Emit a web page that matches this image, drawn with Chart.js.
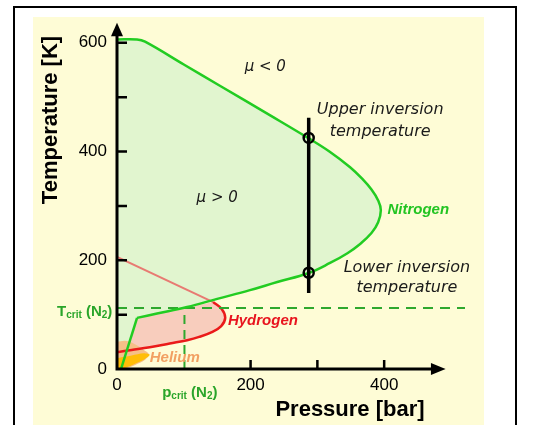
<!doctype html>
<html>
<head>
<title>Joule-Thomson inversion curves</title>
<script src="https://cdn.jsdelivr.net/npm/chart.js@4.4.1/dist/chart.umd.min.js"></script>
<style>
html, body { margin: 0; padding: 0; background: #fff; }
#wrap { width: 539px; height: 425px; }
</style>
</head>
<body>
<div id="wrap"><canvas id="chart" width="539" height="425"></canvas></div>
<script>
// values: pressure in bar, temperature in K
var n2Pressure = [0, 30, 42, 100, 154, 230, 286, 318, 349, 367, 381, 391, 395, 391, 381, 364, 345, 319, 286, 240, 199, 150, 105, 60, 30];
var n2Temp     = [606, 606, 602, 560, 521, 466, 425, 400, 371, 350, 330, 310, 292, 270, 250, 230, 213, 195, 176, 160, 145, 129, 114, 102, 94];
var n2TailPressure = [30, 6];
var n2TailTemp     = [94, 0];

var h2Pressure = [144, 157, 162, 156, 142, 123, 105, 79, 49, 22, 0];
var h2Temp     = [123, 110, 94, 79, 68, 59, 53, 47, 40, 35, 31];
var h2UpperPressure = [0, 144];
var h2UpperTemp     = [206, 123];

var heOuterPressure = [0, 12, 25, 38, 48, 42, 28, 10, 0];
var heOuterTemp     = [50, 52, 47, 37, 27, 17, 8, 0, 0];
var heInnerPressure = [0, 22, 40, 49, 40, 24, 7, 0];
var heInnerTemp     = [20, 25, 29, 26, 17, 8, 0, 0];

var tCritN2 = 112;
var pCritN2 = 101;
var inversionPressure = 287;
var inversionTemps = [425, 177];
var inversionBar = [462, 140];

var pressureTicks = [0, 200, 400];
var temperatureTicks = [0, 200, 400, 600];

function xy(xs, ys) {
	return xs.map(function(x, i) { return {x: x, y: ys[i]}; });
}

var SANS = "'Liberation Sans', Arial, sans-serif";
Chart.defaults.font.family = SANS;

// closed areas: path of the line itself, plus a few closing points
var areaFill = {
	id: 'areaFill',
	beforeDatasetsDraw: function(chart) {
		var ctx = chart.ctx, sx = chart.scales.x, sy = chart.scales.y;
		chart.data.datasets.forEach(function(ds, i) {
			if (!ds.areaFill) return;
			var meta = chart.getDatasetMeta(i);
			ctx.save();
			ctx.beginPath();
			meta.dataset.path(ctx);
			(ds.closeVia || []).forEach(function(p) {
				ctx.lineTo(sx.getPixelForValue(p[0]), sy.getPixelForValue(p[1]));
			});
			ctx.closePath();
			ctx.fillStyle = ds.areaFill;
			ctx.fill();
			ctx.restore();
		});
	}
};

var backdrop = {
	id: 'backdrop',
	beforeDraw: function(chart) {
		var ctx = chart.ctx;
		ctx.save();
		ctx.fillStyle = '#fff';
		ctx.fillRect(0, 0, chart.width, chart.height);
		ctx.fillStyle = '#fefcd6';
		ctx.fillRect(33, 17, 451, 420);
		ctx.strokeStyle = '#000';
		ctx.lineWidth = 2;
		ctx.strokeRect(14, 7, 502, 430);
		ctx.restore();
	}
};

function richText(ctx, parts, x, y, align) {
	var w = 0;
	parts.forEach(function(p) { ctx.font = p.font; w += ctx.measureText(p.t).width; });
	var cx = align === 'right' ? x - w : (align === 'center' ? x - w / 2 : x);
	parts.forEach(function(p) {
		ctx.font = p.font;
		ctx.fillText(p.t, cx, y + (p.dy || 0));
		cx += ctx.measureText(p.t).width;
	});
}

var decorations = {
	id: 'decorations',
	afterDraw: function(chart) {
		var ctx = chart.ctx, sx = chart.scales.x, sy = chart.scales.y;
		var X = function(v) { return sx.getPixelForValue(v); };
		var Y = function(v) { return sy.getPixelForValue(v); };
		var x0 = X(0), y0 = Y(0);
		ctx.save();

		// axes with arrows
		ctx.strokeStyle = '#000';
		ctx.fillStyle = '#000';
		ctx.lineWidth = 3;
		ctx.beginPath();
		ctx.moveTo(x0, y0 + 1.5);
		ctx.lineTo(x0, Y(618));
		ctx.moveTo(x0 - 1.5, y0);
		ctx.lineTo(X(474), y0);
		ctx.stroke();
		ctx.beginPath();
		ctx.moveTo(x0, Y(637));
		ctx.lineTo(x0 - 6, Y(612));
		ctx.lineTo(x0 + 6, Y(612));
		ctx.closePath();
		ctx.fill();
		ctx.beginPath();
		ctx.moveTo(X(492), y0);
		ctx.lineTo(X(470), y0 - 6);
		ctx.lineTo(X(470), y0 + 6);
		ctx.closePath();
		ctx.fill();

		// inward tick marks
		ctx.lineWidth = 2.5;
		ctx.beginPath();
		[100, 200, 300, 400, 500, 600].forEach(function(t) {
			ctx.moveTo(x0, Y(t));
			ctx.lineTo(x0 + 10, Y(t));
		});
		[200, 300, 400].forEach(function(p) {
			ctx.moveTo(X(p), y0);
			ctx.lineTo(X(p), y0 - 9);
		});
		ctx.stroke();

		// axis titles
		ctx.fillStyle = '#000';
		ctx.textBaseline = 'middle';
		ctx.textAlign = 'center';
		ctx.font = 'bold 22px ' + SANS;
		ctx.fillText('Pressure [bar]', 350, 410);
		ctx.save();
		ctx.translate(51, 120);
		ctx.rotate(-Math.PI / 2);
		ctx.fillText('Temperature [K]', 0, 0);
		ctx.restore();

		// region and curve labels
		ctx.fillStyle = '#1a1a1a';
		ctx.font = "italic 15px 'DejaVu Sans', sans-serif";
		ctx.fillText('\u03bc < 0', X(222), Y(555));
		ctx.fillText('\u03bc > 0', X(150), Y(314));
		ctx.font = "italic 16px 'DejaVu Sans', sans-serif";
		ctx.fillText('Upper inversion', X(394), Y(476));
		ctx.fillText('temperature', X(394), Y(436));
		ctx.fillText('Lower inversion', X(434), Y(186));
		ctx.fillText('temperature', X(434), Y(149));

		ctx.font = 'italic bold 15px ' + SANS;
		ctx.fillStyle = '#22c422';
		ctx.fillText('Nitrogen', X(451), Y(292));
		ctx.textAlign = 'left';
		ctx.fillStyle = '#e8141e';
		ctx.fillText('Hydrogen', X(166), Y(88));
		ctx.fillStyle = '#f2a062';
		ctx.fillText('Helium', X(49), Y(20));

		// critical point labels
		ctx.fillStyle = '#2aa52a';
		var big = 'bold 15px ' + SANS, small = 'bold 10px ' + SANS;
		richText(ctx, [
			{t: 'T', font: big}, {t: 'crit', font: small, dy: 3},
			{t: ' (N', font: big}, {t: '2', font: small, dy: 3}, {t: ')', font: big}
		], X(-7), Y(105), 'right');
		richText(ctx, [
			{t: 'p', font: big}, {t: 'crit', font: small, dy: 3},
			{t: ' (N', font: big}, {t: '2', font: small, dy: 3}, {t: ')', font: big}
		], X(109), Y(-44), 'center');

		ctx.restore();
	}
};

var green = '#22cc22';
var dashGreen = '#2ea82e';

var datasets = [{
	label: 'Nitrogen',
	data: xy(n2Pressure, n2Temp),
	borderColor: green,
	borderWidth: 2.5,
	tension: 0.4,
	areaFill: '#e1f5cf',
	closeVia: [[6, 0], [0, 0]],
	order: 2
}, {
	label: 'Nitrogen (low T)',
	data: xy(n2TailPressure, n2TailTemp),
	borderColor: green,
	borderWidth: 2.5,
	tension: 0,
	order: 2
}, {
	label: 'Hydrogen',
	data: xy(h2Pressure, h2Temp),
	borderColor: '#ea1a1a',
	borderWidth: 2.5,
	tension: 0.4,
	areaFill: '#f8cdbd',
	closeVia: [[12, 31], [30, 94]],
	order: 4
}, {
	label: 'Hydrogen (upper)',
	data: xy(h2UpperPressure, h2UpperTemp),
	borderColor: '#e87a72',
	borderWidth: 2,
	tension: 0,
	order: 5
}, {
	label: 'Helium',
	data: xy(heOuterPressure, heOuterTemp),
	borderColor: 'transparent',
	tension: 0.3,
	areaFill: '#f6c088',
	order: 6
}, {
	label: 'Helium core',
	data: xy(heInnerPressure, heInnerTemp),
	borderColor: 'transparent',
	tension: 0.3,
	areaFill: '#ffbe08',
	order: 6
}, {
	label: 'Tcrit N2',
	data: [{x: 0, y: tCritN2}, {x: 521, y: tCritN2}],
	borderColor: dashGreen,
	borderWidth: 2,
	borderDash: [10, 7],
	order: 3
}, {
	label: 'pcrit N2',
	data: [{x: pCritN2, y: 0}, {x: pCritN2, y: tCritN2}],
	borderColor: dashGreen,
	borderWidth: 2,
	borderDash: [9, 6],
	order: 3
}, {
	label: 'isobar',
	data: inversionBar.map(function(t) { return {x: inversionPressure, y: t}; }),
	borderColor: '#000',
	borderWidth: 3.5,
	order: 1
}, {
	label: 'inversion points',
	data: inversionTemps.map(function(t) { return {x: inversionPressure, y: t}; }),
	showLine: false,
	pointRadius: 5,
	pointBorderWidth: 2.5,
	pointBorderColor: '#000',
	pointBackgroundColor: 'transparent',
	order: 0
}];

datasets.forEach(function(ds) {
	if (ds.showLine === undefined) ds.showLine = true;
	if (ds.pointRadius === undefined) ds.pointRadius = 0;
	ds.fill = false;
});

new Chart(document.getElementById('chart').getContext('2d'), {
	type: 'scatter',
	data: {datasets: datasets},
	options: {
		responsive: false,
		animation: false,
		events: [],
		layout: {padding: {left: 0, right: 68, top: 21, bottom: 0}},
		plugins: {legend: {display: false}, tooltip: {enabled: false}},
		scales: {
			x: {
				type: 'linear', min: 0, max: 530,
				grid: {display: false, drawTicks: false},
				border: {display: false},
				ticks: {
					stepSize: 100, autoSkip: false, maxRotation: 0, padding: 6,
					color: '#000', font: {size: 17},
					callback: function(v) { return pressureTicks.indexOf(v) >= 0 ? String(v) : ''; }
				},
				afterFit: function(s) { s.height = 56; }
			},
			y: {
				type: 'linear', min: 0, max: 640,
				grid: {display: false, drawTicks: false},
				border: {display: false},
				ticks: {
					stepSize: 100, autoSkip: false, padding: 10,
					color: '#000', font: {size: 17},
					callback: function(v) { return temperatureTicks.indexOf(v) >= 0 ? String(v) : ''; }
				},
				afterFit: function(s) { s.width = 117; }
			}
		}
	},
	plugins: [backdrop, areaFill, decorations]
});
</script>
</body>
</html>
